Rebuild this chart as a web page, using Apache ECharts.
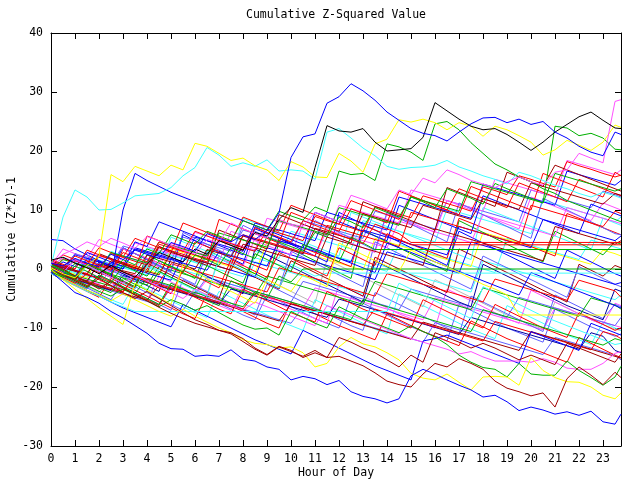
<!DOCTYPE html>
<html>
<head>
<meta charset="utf-8">
<script src="https://cdn.jsdelivr.net/npm/echarts@6/dist/echarts.min.js"></script>
<style>
  html, body { margin: 0; padding: 0; background: #fff; }
  #main { width: 640px; height: 480px; }
</style>
</head>
<body>
<div id="main"></div>
<script>
// half-hour sample points, last one at 23:45
const hours = [0,0.5,1,1.5,2,2.5,3,3.5,4,4.5,5,5.5,6,6.5,7,7.5,8,8.5,9,9.5,10,10.5,11,11.5,12,12.5,13,13.5,14,14.5,15,15.5,16,16.5,17,17.5,18,18.5,19,19.5,20,20.5,21,21.5,22,22.5,23,23.5,23.75]
const hourTicks = [0,1,2,3,4,5,6,7,8,9,10,11,12,13,14,15,16,17,18,19,20,21,22,23]

// walks (one array per line)
const b1 = [-0.5,-2.2,-4,-4.8,-5.8,-7.2,-8.3,-9.6, -10.9,-12.6,-13.5,-13.6,-14.8,-14.6,-14.8,-13.7, -15.3,-15.6,-16.6,-17,-18.8,-18.2,-18.6,-19.6, -18.9,-20.8,-21.6,-22,-22.7,-22,-18.1,-17, -17.8,-18.8,-19.7,-20.5,-21.7,-21.4,-22.5,-24, -23.4,-23.9,-24.6,-24.2,-24.8,-24.1,-25.9,-26.3, -24.6]
const b2 = [1,0.5,1.8,1,0.4,2.5,1.6,3.2, 2.5,1.8,4.5,3.8,3,6,5.2,4.6, 5.8,5,6.5,9.5,18.9,22.4,22.9,28.1, 29.2,31.4,30.2,28.6,26.6,25.2,23.8,23, 22.6,21.7,23.2,24.6,25.6,25.7,24.8,25.4, 24.5,25,23.2,22.2,20.8,19.8,19.2,23.2, 22.8]
const k1 = [1.5,2,1,0.2,-0.8,0.6,-0.5,-1.4, 0.8,2.8,2,1.2,3.4,2.5,4.8,4, 3.2,6.2,5.6,8.4,10.4,9.6,17.2,24.3, 23.4,23.2,23.8,21.5,20,20.2,20.4,22.3, 28.2,26.8,25.4,24.2,23.6,23.8,22.8,21.5, 20.1,21.5,23.2,24.5,25.8,26.6,25.2,23.9, 23.8]
const m1 = [0.8,2.5,3.4,4.6,3.8,5.2,4.4,3.5, 5.5,4.8,4,3.2,2.5,5,4.4,7.8, 6.8,6,5.2,8.4,7.6,7.2,9.6,8.8, 8,12.5,11.8,11,10.2,13.4,12.6,15.4, 14.6,16.8,16,15,14.4,13.8,14.8,15.6, 14.8,14.2,16.4,16.8,19.6,18.8,18,28.4, 28.7]
const y1 = [0.2,-0.8,-1.5,0.6,2.2,16,14.8,17.4, 16.6,15.8,17.6,16.8,21.3,20.8,19.6,18.4, 18.8,17.5,16.8,15,18.2,17.3,15.6,15.5, 19.6,18.3,16.4,21.2,22,25.3,24.9,25.4, 24.8,23.6,24.8,24.2,22.5,24.2,23.6,22.6, 21.5,19.3,20.2,21.8,21,20.1,21.5,24.4, 24]
const c1 = [0.5,8.8,13.4,12.2,10,10.1,11.2,12.4, 12.6,12.8,13.8,15.8,17.2,20.6,19.3,17.4, 18,17.4,18.5,16.6,16.8,16.6,15.2,23.2, 23.8,22.2,20.5,19.2,17.4,16.9,17.2,17.3, 17.6,18.4,17.3,16.6,15.8,15.2,14.4,16.4, 15.8,15,14.2,13.6,12.8,12.2,13,12.4, 12]
const g1 = [0.6,-0.4,-1.4,0.8,0,-0.8,1.6,0.7, 3.4,2.6,5.8,5,4.2,6.4,5.6,4.8, 8.2,7.4,6.6,9.8,9,8.3,10.5,9.7, 16.6,16,16.2,15,21.2,20.7,19.8,18.4, 24.6,25,23.6,21.4,19.6,17.8,16.8,15.6, 14.8,13.6,12.8,11.6,10.8,10,9.2,8.4, 8]
const g2 = [-0.5,-1.4,0.5,-0.4,-1.5,-2.4,0.6,-0.3, -1.2,1.4,0.5,-0.5,2.4,1.6,0.6,3.6, 2.6,1.8,5.4,4.6,3.8,3,6.2,5.4, 8.8,8,7,10.4,9.6,8.8,12.2,11.4, 10.4,13.6,12.8,12,11,14.5,13.6,12.8, 12,11.2,24.2,23.9,22.6,23,22.2,20.3, 20.2]
const dr1 = [0.5,-0.8,-2,-3,-1.6,-2.8,-4,-5, -3.8,-5,-6.2,-7.4,-8.6,-9.4,-10.4,-10.8, -11.8,-13.4,-14.5,-13.1,-13.8,-15,-14.2,-15, -14.8,-15.6,-16.4,-17.6,-19,-19.6,-20,-17.8, -16,-16.6,-15.2,-16,-17,-19,-20.2,-20.8, -21.5,-21,-23.4,-18.6,-16.6,-18,-19.6,-17.5, -18.4]
const dr2 = [1,0,-1.2,-2.2,-3.4,-2,-3.2,-4.4, -5.4,-6.5,-7.5,-8.4,-9.2,-9.8,-10.4,-11, -12.3,-13.6,-14.6,-13.2,-14,-14.8,-13.8,-15, -11.6,-12.4,-13.4,-14.2,-15.4,-16.6,-14.6,-15.8, -10.8,-11.6,-12.4,-13.4,-12.6,-13.4,-14.4,-15.4, -14.6,-15.4,-16.2,-12.6,-13.4,-14.2,-15,-15.8, -14.4]
const y2 = [-0.5,-1.6,-2.6,-3.6,-4.4,-5.4,-4.2,-5.2, -6.2,-7.2,-8,-6.8,-8,-9,-10,-10.8, -12,-12.6,-12.8,-13.4,-13.2,-14.2,-16.6,-16, -13.2,-11.6,-12.7,-13.2,-14.2,-15.4,-17.7,-18.5, -18.8,-17.8,-19.2,-20.5,-18.3,-18.2,-18.3,-19.7, -15,-17.2,-18.4,-19.1,-19.2,-20,-21.4,-22, -21]
const y3 = [0,-1.8,-3.4,-5,-6.6,-8,-9.4,-2.4, -3.6,-4.8,-6,0.8,-0.4,-1.6,-2.8,-3.8, -4.8,-5.8,-1.8,-2.8,-3.8,-1,-2,-3, 4.4,3.4,2.4,1.4,0.5,-0.4,3.2,2.2, 1.2,0.4,-0.6,-1.6,-2.6,-3.4,-4.4,-7.8, -7.8,-7.8,-7.8,-7.8,-7.8,-7.8,-7.8,-7.8, -7.8]
const g3 = [0.2,-0.8,-1.8,-2.8,-3.8,-4.6,-3.4,-4.4, -5.4,-6.4,-5.2,-6,-7,-6.2,-7.4,-8.5, -9.5,-10.2,-10,-11.2,-7.2,-8.2,-9.2,-10, -6.4,-7.4,-8.4,-9.2,-10,-10.8,-9.6,-10.6, -11.5,-12.8,-14.6,-15.8,-16.7,-17,-18.3,-16, -17.8,-18,-18,-15.6,-17.2,-18.4,-19.7,-18.3, -16.5]
const m2 = [0.4,-0.6,1.6,0.6,-0.4,-1.4,-2.4,-1, -2,-3,-4,-5,-3.4,-4.4,-5.4,-6.2, -7,-5.6,-6.4,-7.2,-8,-8.8,-9.6,-6.2, -7,-7.8,-8.6,-9.4,-10.2,-11,-11.8,-12.4, -13,-13.6,-14.4,-14,-14.9,-15.6,-15.6,-15.6, -15.8,-15.2,-15.8,-16.8,-17,-17,-16,-14.3, -14]
const rf1 = [1.2,0.4,2.2,1.4,0.6,-0.2,2.8,2, 1.2,4.6,3.8,3,6.4,5.6,4.8,4, 3.2,7,6.2,5.4,4.6,8.2,7.4,6.6, 5.8,5,4.3,7.6,6.8,6,4.5,4.5, 4.5,4.5,4.5,4.5,4.5,4.5,4.5,4.5, 4.5,4.5,4.5,4.5,4.5,4.5,4.5,4.5, 4.5]
const rf2 = [-0.4,-1.4,-2.4,-0.8,-1.8,-2.8,-3.8,-1.2, -2.2,-3.2,-4.2,-0.2,-1.2,-2.2,-3.2,1.6, 0.6,-0.4,-1.4,2.8,1.8,0.8,-0.2,-1.2, 3.6,2.6,1.6,0.6,6,5,4.1,4.1, 4.1,4.1,4.1,4.1,4.1,4.1,4.1,4.1, 4.1,4.1,4.1,4.1,4.1,4.1,4.1,4.1, 4.1]
const gf3 = [0.8,-0.2,-1.2,-2.2,-3.2,-4,-1.6,-2.6, -3.6,-0.4,-1.4,-2.4,-3.4,0.6,-0.4,-1.4, -2.4,2.6,1.6,0.6,-0.4,4.2,3.2,2.2, 1.2,5.4,4.4,3.3,3.3,3.3,3.3,3.3, 3.3,3.3,3.3,3.3,3.3,3.3,3.3,3.3, 3.3,3.3,3.3,3.3,3.3,3.3,3.3,3.3, 3.3]
const gf0 = [-0.2,-1.2,-2.2,-3.2,-1,-2,-3,-4, -5,-6,-2.4,-3.4,-4.4,-5.4,-6.2,-2, -3,-4,-5,-1.2,-2.2,0,0,0, 0,0,0,0,0,0,0,0, 0,0,0,0,0,0,0,0, 0,0,0,0,0,0,0,0, 0]
const cf = [-0.3,-1.3,-2.3,0.6,-0.4,-1.4,-2.4,-3.4, 0.4,-0.6,-1.6,-2.6,-3.6,-4.6,1.8,0.8, -0.2,-1.2,-2.2,-3.2,0.8,-0.2,-1.2,-0.7, -0.7,-0.7,-0.7,-0.7,-0.7,-0.7,-0.7,-0.7, -0.7,-0.7,-0.7,-0.7,-0.7,-0.7,-0.7,-0.7, -0.7,-0.7,-0.7,-0.7,-0.7,-0.7,-0.7,-0.7, -0.7]
const c3 = [-0.8,-1.8,-2.8,-3.8,-4.6,-5.6,-6.4,-7.2, -7.2,-7.2,-7.2,-7.2,-7.2,-7.2,-7.2,-7.2, -7.2,-7.2,-7.2,-7.2,-7.2,-7.2,-7.2,-7.2, -7.2,-7.2,-7.2,-7.2,-7.2,-2.4,-3.4,-4.4, -5.4,-6.4,-7.4,-8.4,-3,-4,-5,-6, -7,-8,-8.8,-9.6,-10.4,-11.2,-12,-12.8, -12.6]
const r1 = [0.8,2.4,1.6,0.8,3.6,2.8,2,5.2, 4.4,3.6,2.8,7.8,7,6.2,5.4,4.6, 8.8,8,7.2,6.4,10.8,10,9.2,8.4, 7.6,11.6,10.8,10,9.2,8.4,12.4,11.6, 10.8,10,13.6,12.8,12,11.2,10.4,14.6, 13.8,13,12.2,11.4,15.2,14.4,13.6,12.8, 12.4]
const r2 = [-0.6,1.8,1,0.2,-0.6,-1.4,3.4,2.6, 1.8,1,0.2,-0.6,4.6,3.8,3,2.2, 1.4,0.6,-0.2,5.2,4.4,3.6,2.8,2, 1.2,0.4,7.4,6.6,5.8,5,4.2,3.4, 2.6,1.8,8.6,7.8,7,6.2,5.4,4.6, 3.8,3,2.2,9.4,8.6,7.8,7,6.2, 5.8]
const r3 = [0.2,-0.8,-1.8,-2.8,-1.2,-2.2,-3.2,-4.2, -5.2,-6.2,-2.8,-3.8,-4.8,-5.8,-6.8,-7.6, -3.4,-4.4,-5.4,-6.4,-7.4,-8.2,-9,-3.8, -4.8,-5.8,-6.8,-7.6,-8.4,-9.2,-10,-5.2, -6.2,-7.2,-8.2,-9.2,-10,-6,-7,-8, -9,-10,-10.8,-11.6,-7.4,-8.4,-9.4,-10.4, -10]
const r4 = [1.6,0.8,0,3.2,2.4,1.6,0.8,0, 5.6,4.8,4,3.2,2.4,1.6,8.4,7.6, 6.8,6,5.2,4.4,9.6,8.8,8,7.2, 6.4,10.2,9.4,8.6,7.8,13.2,12.4,11.6, 10.8,10,9.2,14,13.2,12.4,11.6,10.8, 10,16.2,15.4,14.6,13.8,13,12.2,16.4, 15.8]
const r5 = [-0.8,-1.8,-2.8,-3.8,-4.8,-1.6,-2.6,-3.6, -4.6,-5.6,-6.6,-7.6,-8.4,-4.2,-5.2,-6.2, -7.2,-8.2,-9.2,-10,-5.6,-6.6,-7.6,-8.6, -9.6,-10.4,-11.2,-12,-7.6,-8.6,-9.6,-10.6, -11.4,-12.2,-13,-8.8,-9.8,-10.8,-11.8,-12.6, -13.4,-14.2,-15,-15.8,-11.6,-12.6,-13.6,-14.6, -15]
const bl3 = [5,4.8,3.4,2.4,1.4,0.4,3.6,2.6, 1.6,0.6,-0.4,5.8,4.8,3.8,2.8,1.8, 0.8,7.2,6.2,5.2,4.2,3.2,2.2,1.2, 9.6,8.6,7.6,6.6,5.6,4.6,3.6,2.6, 1.6,0.6,6.4,5.4,4.4,3.4,2.4,1.4, 0.4,-0.6,-1.6,3.2,2.2,1.2,0.2,-0.8, -1.2]
const bl4 = [0.4,-0.6,1.6,0.6,-0.4,-1.4,10,16.2, 15,14,13,12.2,11.4,10.6,9.8,9, 8.2,7.4,6.6,5.8,5,4.2,3.4,2.6, 1.8,1,0.2,-0.6,4.4,3.6,2.8,2, 1.2,0.4,-0.4,-1.2,-2,-2.8,-3.6,-4.4, -0.6,-1.4,-2.2,-3,-3.8,-4.6,-5.4,-6.2, -6.6]
const bl5 = [-0.6,-1.6,-2.6,-3.6,-4.6,-5.6,-6.6,-7.4, -8.2,-9,-9.8,-6,-7,-8,-9,-10, -11,-12,-12.8,-13.6,-14.4,-10.4,-11.4,-12.4, -13.4,-14.4,-15.4,-16.4,-17.2,-18,-18.8,-12.2, -11.8,-11.2,-12,-12.8,-13.6,-14.4,-15.2,-16, -10.6,-11.4,-12.2,-13,-13.8,-9.2,-10,-10.8, -11.2]
const bl6 = [-0.2,1.2,0.4,2.8,2,1.2,0.4,4.6, 3.8,8,7.2,6.4,5.6,4.8,4,3.2, 2.4,6.8,6,5.2,4.4,3.6,9.6,8.8, 8,7.2,6.4,5.6,4.8,10.8,10,9.2, 8.4,7.6,6.8,6,12.4,11.6,10.8,10, 9.2,8.4,7.6,6.8,6,11,10.2,9.4, 9]
const sb1 = [0.6,-0.4,-1.4,1.8,0.8,-0.2,-1.2,-2.2, 1.4,0.4,-0.6,-1.6,-2.6,2.8,1.8,0.8, -0.2,-1.2,-2.2,-3.2,3,2,1,0, -1,-2,-3,4.6,3.6,2.6,1.6,0.6, -0.4,-1.4,-2.4,-3.4,2.2,1.2,0.2,-0.8, -1.8,-2.8,-3.8,-4.8,0.4,-0.6,-1.6,-2.6, -3]
const sb2 = [-0.2,-1.2,-2.2,-3.2,-4.2,-5.2,-2,-3, -4,-5,-6,-7,-3.8,-4.8,-5.8,-6.8, -7.8,-8.6,-4.4,-5.4,-6.4,-7.4,-8.4,-9.2, -10,-4.8,-5.8,-6.8,-7.8,-8.8,-9.8,-10.6, -11.4,-12.2,-6,-7,-8,-9,-10,-10.8, -11.6,-12.4,-6.8,-7.8,-8.8,-9.8,-10.6,-11.4, -11]
const sb3 = [0.4,-0.6,2.6,1.6,0.6,-0.4,3.6,2.6, 1.6,0.6,-0.4,6.2,5.2,4.2,3.2,2.2, 7.4,6.4,5.4,4.4,3.4,2.4,8.2,7.2, 6.2,5.2,4.2,3.2,9.6,8.6,7.6,6.6, 5.6,4.6,11.2,10.2,9.2,8.2,7.2,6.2, 5.2,12,11,10,9,8,7,6, 5.8]
const sb4 = [-0.4,-1.4,-2.4,-3.4,-1,-2,-3,-4, -5,-6,-7,-1.8,-2.8,-3.8,-4.8,-5.8, -6.8,-7.8,-2.6,-3.6,-4.6,-5.6,-6.6,-7.6, -8.6,-9.6,-10.4,-4,-5,-6,-7,-8, -9,-10,-11,-4.6,-5.6,-6.6,-7.6,-8.6, -9.6,-10.6,-4.4,-5.4,-6.4,-7.4,-8.4,-6, -6.4]
const dr3 = [1.4,0.6,-0.2,-1,2.6,1.8,1,0.2, -0.6,3.8,3,2.2,1.4,0.6,6.6,5.8, 5,4.2,3.4,9.2,8.4,7.6,6.8,6, 5.2,4.4,11.4,10.6,9.8,9,8.2,7.4, 6.6,13.8,13,12.2,11.4,10.6,16.4,15.6, 14.8,14,17.6,16.8,16,15.2,14.4,13.6, 13.2]
const dr4 = [0.2,-0.8,-1.8,0.8,-0.2,-1.2,-2.2,-3.2, 1,0,-1,-2,-3,-4,-5,0.6, -0.4,-1.4,-2.4,-3.4,1.4,0.4,-0.6,-1.6, -2.6,-3.6,-4.6,2,1,0,-1,-2, -3,-4,3.4,2.4,1.4,0.4,-0.6,-1.6, -2.6,-3.6,-4.6,-5.6,0.8,-0.2,-1.2,0.6, 0.2]
const m3 = [0.6,3.4,2.6,1.8,5,4.2,3.4,2.6, 1.8,1,4.4,3.6,2.8,2,1.2,6.4, 5.6,4.8,4,3.2,2.4,7.6,6.8,6, 5.2,4.4,3.6,2.8,9.4,8.6,7.8,7, 6.2,11.6,10.8,10,9.2,8.4,7.6,6.8, 12.2,11.4,10.6,9.8,9,8.2,11.2,10.4, 10]
const m4 = [-0.4,-1.4,-2.4,-0.4,-1.4,-2.4,-3.4,-4.4, -5.4,-1.2,-2.2,-3.2,-4.2,-5.2,-6.2,-7, -2.8,-3.8,-4.8,-5.8,-6.8,-7.6,-8.4,-9.2, -2.6,-3.6,-4.6,-5.6,-6.6,-7.6,-8.4,-9.2, -10,-3.4,-4.4,-5.4,-6.4,-7.4,-8.4,-9.2, -3.6,-4.6,-5.6,-6.6,-7.6,-8.6,-9.4,-5.8, -6.2]
const g4 = [0.4,-0.6,-1.6,1,0,-1,-2,-3, 2.4,1.4,0.4,-0.6,-1.6,3.2,2.2,1.2, 0.2,-0.8,-1.8,4.4,3.4,2.4,1.4,0.4, -0.6,-1.6,6.6,5.6,4.6,3.6,2.6,1.6, 0.6,-0.4,8.2,7.2,6.2,5.2,4.2,3.2, 2.2,1.2,6.4,5.4,4.4,3.4,2.4,4.6, 4.2]
const c4 = [0.2,2,1.2,0.4,-0.4,3,2.2,1.4, 0.6,-0.2,5.4,4.6,3.8,3,2.2,1.4, 8.6,7.8,7,6.2,5.4,4.6,3.8,3, 2.2,9.6,8.8,8,7.2,6.4,5.6,4.8, 4,3.2,2.4,1.6,10.4,9.6,8.8,8, 7.2,6.4,5.6,4.8,4,3.2,8.6,7.8, 7.4]
const c5 = [-0.6,-1.6,-2.6,-3.6,-4.4,-5.2,-6,-2.4, -3.4,-4.4,-5.4,-6.4,-7.4,-8.2,-3.8,-4.8, -5.8,-6.8,-7.8,-8.8,-9.6,-10.4,-5.2,-6.2, -7.2,-8.2,-9.2,-10.2,-11,-4.2,-5.2,-6.2, -7.2,-8.2,-9.2,-10.2,-11,-11.8,-6.2,-7.2, -8.2,-9.2,-10.2,-11.2,-12,-12.8,-9,-10, -10.4]
const gr1 = [0,-1,-2,-3,-4,-1.4,-2.4,-3.4, 0.6,-0.4,-1.4,-2.4,-3.4,-4.4,2.2,1.2, 0.2,-0.8,-1.8,-2.8,-3.8,-4.8,-5.8,1.6, 0.6,-0.4,-1.4,-2.4,-3.4,-4.4,-5.4,-6.4, -1.8,-2.8,-3.8,-4.8,-5.8,-6.8,-7.8,-8.6, -9.4,-10.2,-5.6,-6.6,-7.6,-8.6,-9.4,-10.2, -10.4]
const nv1 = [0.8,-0.2,-1.2,-2.2,1.2,0.2,-0.8,-1.8, -2.8,-3.8,1.8,0.8,-0.2,-1.2,-2.2,-3.2, -4.2,3.4,2.4,1.4,0.4,-0.6,-1.6,-2.6, -3.6,-4.6,-5.6,1.4,0.4,-0.6,-1.6,-2.6, -3.6,-4.6,-5.6,-6.4,0.8,-0.2,-1.2,-2.2, -3.2,-4.2,-5.2,-6.2,-7,-7.8,-8.6,-3.4, -3.8]
const a1 = [0.3,-0.2,1.4,0.8,0.2,2.6,2,1.3, 0.7,3.8,3.1,2.5,1.8,1.2,4.9,4.3, 3.6,3,6.8,6.1,5.5,4.8,8.9,8.2, 7.6,7,6.3,10.6,10,9.3,8.7,12.4, 11.8,11.1,10.5,9.8,13.9,13.3,12.6,15.8, 15.2,14.5,13.9,18.2,17.5,16.9,16.2,15.6, 15.9]
const a2 = [-0.4,-0.9,-1.5,-2,0.9,0.3,-0.3,-0.8, 2.4,1.8,1.2,0.6,0,3.3,2.7,2.1, 5.6,5,4.4,3.8,3.2,2.6,6.9,6.3, 5.7,5.1,9.4,8.8,8.2,7.6,7,10.8, 10.2,9.6,9,8.4,11.9,11.3,10.7,10.1, 14.6,14,13.4,12.8,12.2,11.6,11,12.8, 12.5]
const a3 = [0.5,1.9,1.3,0.7,0.1,-0.5,2.2,1.6, 1,0.4,4.1,3.5,2.9,2.3,1.7,1.1, 0.5,5.2,4.6,4,3.4,2.8,2.2,6.6, 6,5.4,4.8,4.2,3.6,8.1,7.5,6.9, 6.3,5.7,5.1,4.5,9.2,8.6,8,7.4, 6.8,6.2,5.6,10.4,9.8,9.2,8.6,8, 7.7]
const a4 = [0.9,0.3,-0.3,-0.9,-1.5,1.1,0.5,-0.1, -0.7,-1.3,-1.9,2.2,1.6,1,0.4,-0.2, -0.8,-1.4,3.6,3,2.4,1.8,1.2,0.6, 0,-0.6,-1.2,-1.8,2.9,2.3,1.7,1.1, 0.5,-0.1,-0.7,4.6,4,3.4,2.8,2.2, 1.6,1,0.4,-0.2,-0.8,-1.4,-2,-2.6, -2.3]
const a5 = [-0.3,-0.9,-1.5,-2.1,-2.7,-3.3,-0.6,-1.2, -1.8,-2.4,-3,-3.6,-4.2,-1.4,-2,-2.6, -3.2,-3.8,-4.4,-5,-5.6,-2.1,-2.7,-3.3, -3.9,-4.5,-5.1,-5.7,-6.3,-6.9,-3.4,-4, -4.6,-5.2,-5.8,-6.4,-7,-7.6,-8.2,-4.8, -5.4,-6,-6.6,-7.2,-7.8,-8.4,-9,-9.6, -8.2]
const a6 = [0.1,-0.5,-1.1,-1.7,-2.3,-2.9,-3.5,-4.1, -1.6,-2.2,-2.8,-3.4,-4,-4.6,-5.2,-5.8, -6.4,-3.8,-4.4,-5,-5.6,-6.2,-6.8,-7.4, -8,-8.6,-5.2,-5.8,-6.4,-7,-7.6,-8.2, -8.8,-9.4,-10,-10.6,-6.9,-7.5,-8.1,-8.7, -9.3,-9.9,-10.5,-11.1,-11.7,-12.3,-12.9,-11.8, -12.1]
const a7 = [-0.2,-0.8,-1.4,1.3,0.7,0.1,-0.5,-1.1, -1.7,-2.3,0.9,0.3,-0.3,-0.9,-1.5,-2.1, -2.7,-3.3,-3.9,0.2,-0.4,-1,-1.6,-2.2, -2.8,-3.4,-4,-4.6,-0.8,-1.4,-2,-2.6, -3.2,-3.8,-4.4,-5,-5.6,-1.7,-2.3,-2.9, -3.5,-4.1,-4.7,-5.3,-1.9,-2.5,-3.1,-3.7, -4.8]
const a8 = [0.6,0,-0.6,-1.2,-1.8,0.8,0.2,-0.4, -1,2.9,2.3,1.7,1.1,0.5,-0.1,-0.7, -1.3,1.9,1.3,0.7,0.1,3.8,3.2,2.6, 2,1.4,0.8,0.2,-0.4,4.2,3.6,3, 2.4,1.8,1.2,0.6,0,-0.6,5.2,4.6, 4,3.4,2.8,2.2,1.6,4.9,4.3,3.7, 3.4]
const a9 = [-0.5,-1.1,-1.7,-2.3,-2.9,-3.5,-4.1,-4.7, -5.3,-2.8,-3.4,-4,-4.6,-5.2,-5.8,-6.4, -7,-7.6,-8.2,-8.8,-5.9,-6.5,-7.1,-7.7, -8.3,-8.9,-9.5,-10.1,-10.7,-11.3,-11.9,-9, -9.6,-10.2,-10.8,-11.4,-12,-12.6,-13.2,-13.8, -10.6,-11.2,-11.8,-12.4,-13,-13.6,-14.2,-14.8, -15.1]
const a10 = [-0.1,-0.7,-1.3,1.8,1.2,0.6,0,3.4, 2.8,2.2,1.6,1,0.4,-0.2,2.9,2.3, 1.7,1.1,0.5,4.8,4.2,3.6,3,2.4, 1.8,1.2,6.6,6,5.4,4.8,4.2,3.6, 3,2.4,7.2,6.6,6,5.4,4.8,4.2, 3.6,8.4,7.8,7.2,6.6,6,5.4,4.8, 5.6]
const a11 = [0.7,0.1,2.6,2,1.4,0.8,3.9,3.3, 2.7,2.1,1.5,5.4,4.8,4.2,3.6,3, 6.6,6,5.4,4.8,4.2,8.2,7.6,7, 6.4,5.8,5.2,9.8,9.2,8.6,8,7.4, 6.8,11.6,11,10.4,9.8,9.2,8.6,8, 13.4,12.8,12.2,11.6,11,10.4,13.2,12.6, 12.2]
const a12 = [-0.1,-0.7,-1.3,-1.9,-2.5,-0.2,-0.8,-1.4, -2,-2.6,-3.2,-3.8,-4.4,-1.8,-2.4,-3, -3.6,-4.2,-4.8,-5.4,-6,-6.6,-3.2,-3.8, -4.4,-5,-5.6,-6.2,-6.8,-7.4,-8,-8.6, -4.9,-5.5,-6.1,-6.7,-7.3,-7.9,-8.5,-9.1, -9.7,-10.3,-6.6,-7.2,-7.8,-8.4,-9,-9.6, -9.9]
const a13 = [1,0.4,-0.2,-0.8,2.3,1.7,1.1,0.5, -0.1,4.2,3.6,3,2.4,1.8,1.2,0.6, 5.8,5.2,4.6,4,3.4,2.8,2.2,7.4, 6.8,6.2,5.6,5,4.4,3.8,9.6,9, 8.4,7.8,7.2,6.6,6,5.4,4.8,4.2, 10.8,10.2,9.6,9,8.4,7.8,7.2,9.8, 9.4]
const a14 = [-0.3,1.6,1,0.4,-0.2,2.8,2.2,1.6, 1,4.6,4,3.4,2.8,2.2,6.1,5.5, 4.9,4.3,3.7,8.2,7.6,7,6.4,5.8, 10.4,9.8,9.2,8.6,8,7.4,12.2,11.6, 11,10.4,9.8,14.8,14.2,13.6,13,12.4, 11.8,11.2,16.2,15.6,15,14.4,13.8,13.2, 13.6]
const a15 = [-0.4,-1,-1.6,0.8,0.2,-0.4,-1,-1.6, -2.2,-2.8,0.4,-0.2,-0.8,-1.4,-2,-2.6, -3.2,1.2,0.6,0,-0.6,-1.2,-1.8,-2.4, -3,-3.6,-4.2,0.9,0.3,-0.3,-0.9,-1.5, -2.1,-2.7,-3.3,-3.9,1.4,0.8,0.2,-0.4, -1,-1.6,-2.2,-2.8,-3.4,-4,-4.6,-5.2, -4.4]
const a16 = [-0.6,-1.2,-1.8,-2.4,-3,-3.6,-1.1,-1.7, -2.3,-2.9,-3.5,-4.1,-4.7,-5.3,-5.9,-3.4, -4,-4.6,-5.2,-5.8,-6.4,-7,-7.6,-8.2, -5.1,-5.7,-6.3,-6.9,-7.5,-8.1,-8.7,-9.3, -9.9,-10.5,-11.1,-8.2,-8.8,-9.4,-10,-10.6, -11.2,-11.8,-12.4,-13,-13.6,-10.8,-11.4,-13.8, -14.2]
const a17 = [0.2,-0.4,2.4,1.8,1.2,0.6,0,3.6, 3,2.4,1.8,1.2,5.4,4.8,4.2,3.6, 3,7.8,7.2,6.6,6,5.4,4.8,9.6, 9,8.4,7.8,7.2,6.6,12.2,11.6,11, 10.4,9.8,9.2,8.6,14.4,13.8,13.2,12.6, 12,11.4,10.8,16.6,16,15.4,14.8,14.2, 15]
const a18 = [0.8,0.2,-0.4,-1,-1.6,1.4,0.8,0.2, -0.4,-1,2.8,2.2,1.6,1,0.4,-0.2, 4.2,3.6,3,2.4,1.8,1.2,0.6,5.4, 4.8,4.2,3.6,3,2.4,1.8,1.2,0.6, 6.8,6.2,5.6,5,4.4,3.8,3.2,2.6, 2,1.4,7.2,6.6,6,5.4,4.8,4.2, 4.8]
const a19 = [0.3,-0.3,-0.9,-1.5,2.2,1.6,1,0.4, -0.2,-0.8,3.4,2.8,2.2,1.6,1,0.4, -0.2,-0.8,4.6,4,3.4,2.8,2.2,1.6, 1,0.4,-0.2,5.2,4.6,4,3.4,2.8, 2.2,1.6,1,0.4,6.2,5.6,5,4.4, 3.8,3.2,2.6,2,1.4,0.8,3.2,2.6, 2.2]
const a20 = [-0.2,-0.8,0.9,0.3,-0.3,-0.9,-1.5,-2.1, -2.7,0.4,-0.2,-0.8,-1.4,-2,-2.6,-3.2, -3.8,-4.4,-1.2,-1.8,-2.4,-3,-3.6,-4.2, -4.8,-5.4,-6,-2.1,-2.7,-3.3,-3.9,-4.5, -5.1,-5.7,-6.3,-6.9,-3.2,-3.8,-4.4,-5, -5.6,-6.2,-6.8,-7.4,-8,-4.9,-5.5,-6.1, -6.8]
const a21 = [-0.7,-1.3,-1.9,-2.5,-3.1,-3.7,-4.3,-4.9, -5.5,-6.1,-3.2,-3.8,-4.4,-5,-5.6,-6.2, -6.8,-7.4,-8,-8.6,-9.2,-6.4,-7,-7.6, -8.2,-8.8,-9.4,-10,-10.6,-11.2,-11.8,-12.4, -9.1,-9.7,-10.3,-10.9,-11.5,-12.1,-12.7,-13.3, -13.9,-14.5,-11.6,-12.2,-12.8,-13.4,-14,-14.6, -15.4]
const a22 = [1.2,0.6,0,2.8,2.2,1.6,1,4.4, 3.8,3.2,2.6,2,6.2,5.6,5,4.4, 3.8,3.2,8.6,8,7.4,6.8,6.2,5.6, 10.8,10.2,9.6,9,8.4,7.8,13.4,12.8, 12.2,11.6,11,10.4,9.8,15.2,14.6,14, 13.4,12.8,12.2,18.4,17.8,17.2,16.6,16, 16.8]
const a23 = [-0.3,-0.9,-1.5,-2.1,-2.7,-3.3,-3.9,-1.4, -2,-2.6,-3.2,-3.8,-4.4,-5,-5.6,-6.2, -6.8,-4.1,-4.7,-5.3,-5.9,-6.5,-7.1,-7.7, -8.3,-8.9,-9.5,-6.8,-7.4,-8,-8.6,-9.2, -9.8,-10.4,-11,-11.6,-12.2,-8.9,-9.5,-10.1, -10.7,-11.3,-11.9,-12.5,-13.1,-13.7,-10.6,-11.2, -11.8]
const a24 = [0.4,-0.2,-0.8,2.1,1.5,0.9,0.3,-0.3, 3.6,3,2.4,1.8,1.2,0.6,4.8,4.2, 3.6,3,2.4,1.8,6.4,5.8,5.2,4.6, 4,3.4,8.2,7.6,7,6.4,5.8,5.2, 4.6,10.2,9.6,9,8.4,7.8,7.2,6.6, 6,11.6,11,10.4,9.8,9.2,8.6,8, 8.8]

const RED = '#ff0000', GREEN = '#00b000', BLUE = '#0000ff', MAGENTA = '#ff50ff', CYAN = '#40ffff',
  DARKRED = '#a00000', YELLOW = '#ffff00', BLACK = '#000000', SLATE = '#6060ff', GRAY = '#b8b8b8', NAVY = '#0000a0'

// draw order: first ones end up underneath
const walks = [
  [gr1, GRAY], [c5, CYAN], [a15, CYAN], [a24, CYAN], [a8, CYAN], [sb2, SLATE], [a21, SLATE], [r5, RED],
  [m4, MAGENTA], [a12, MAGENTA], [sb4, SLATE], [a5, SLATE], [nv1, NAVY], [a16, NAVY], [a19, YELLOW],
  [r3, RED], [a23, RED], [g4, GREEN], [a20, GREEN], [a6, GREEN], [dr4, DARKRED], [a9, DARKRED],
  [sb1, SLATE], [a11, SLATE], [c4, CYAN], [bl3, BLUE], [a4, BLUE], [r2, RED], [a7, RED],
  [m3, MAGENTA], [a3, MAGENTA], [a22, MAGENTA], [bl6, BLUE], [a10, BLUE], [a17, BLUE], [sb3, SLATE],
  [r1, RED], [a13, RED], [a1, RED], [r4, RED], [dr3, DARKRED], [a2, DARKRED], [a18, DARKRED], [a14, GREEN],
  [bl4, BLUE], [bl5, BLUE], [c3, CYAN], [cf, CYAN], [gf0, GREEN], [gf3, GREEN], [rf2, RED], [rf1, RED],
  [m2, MAGENTA], [g3, GREEN], [y3, YELLOW], [y2, YELLOW], [dr2, DARKRED], [dr1, DARKRED],
  [g2, GREEN], [g1, GREEN], [c1, CYAN], [y1, YELLOW], [m1, MAGENTA], [k1, BLACK], [b2, BLUE], [b1, BLUE]
]

const chart = echarts.init(document.getElementById('main'))
const font = { fontFamily: 'DejaVu Sans Mono', fontSize: 11.5, color: '#000' }
const black = { color: '#000', width: 1 }

const series = walks.map(([vals, color], i) => ({
  name: 'walk' + i,
  type: 'line',
  data: vals.map((v, j) => [hours[j], v]),
  showSymbol: false,
  symbol: 'none',
  silent: true,
  lineStyle: { color: color, width: 1 },
  z: 2
}))

chart.setOption({
  animation: false,
  backgroundColor: '#fff',
  title: {
    text: 'Cumulative Z-Squared Value',
    left: 246,
    top: 9,
    padding: 0,
    textStyle: Object.assign({ fontWeight: 'normal' }, font)
  },
  grid: { left: 51, right: 19, top: 33, bottom: 34, outerBoundsMode: 'none', containLabel: false },
  xAxis: [{
    type: 'value',
    min: 0,
    max: 23.75,
    position: 'bottom',
    name: 'Hour of Day',
    nameLocation: 'middle',
    nameGap: 21,
    nameMoveOverlap: false,
    nameTextStyle: font,
    axisLine: { show: true, onZero: false, lineStyle: black },
    axisTick: { show: true, inside: true, length: 6, customValues: hourTicks, lineStyle: black },
    axisLabel: Object.assign({ customValues: hourTicks, margin: 7 }, font),
    splitLine: { show: false }
  }, {
    type: 'value',
    min: 0,
    max: 23.75,
    position: 'top',
    axisLine: { show: true, onZero: false, lineStyle: black },
    axisTick: { show: true, inside: true, length: 6, customValues: hourTicks, lineStyle: black },
    axisLabel: { show: false },
    splitLine: { show: false }
  }],
  yAxis: [{
    type: 'value',
    min: -30,
    max: 40,
    interval: 10,
    position: 'left',
    name: 'Cumulative (Z*Z)-1',
    nameLocation: 'middle',
    nameGap: 33,
    nameRotate: 90,
    nameMoveOverlap: false,
    nameTextStyle: font,
    axisLine: { show: true, onZero: false, lineStyle: black },
    axisTick: { show: true, inside: true, length: 6, lineStyle: black },
    axisLabel: Object.assign({ margin: 8 }, font),
    splitLine: { show: false }
  }, {
    type: 'value',
    min: -30,
    max: 40,
    interval: 10,
    position: 'right',
    axisLine: { show: true, onZero: false, lineStyle: black },
    axisTick: { show: true, inside: true, length: 6, lineStyle: black },
    axisLabel: { show: false },
    splitLine: { show: false }
  }],
  series: series
})
</script>
</body>
</html>
